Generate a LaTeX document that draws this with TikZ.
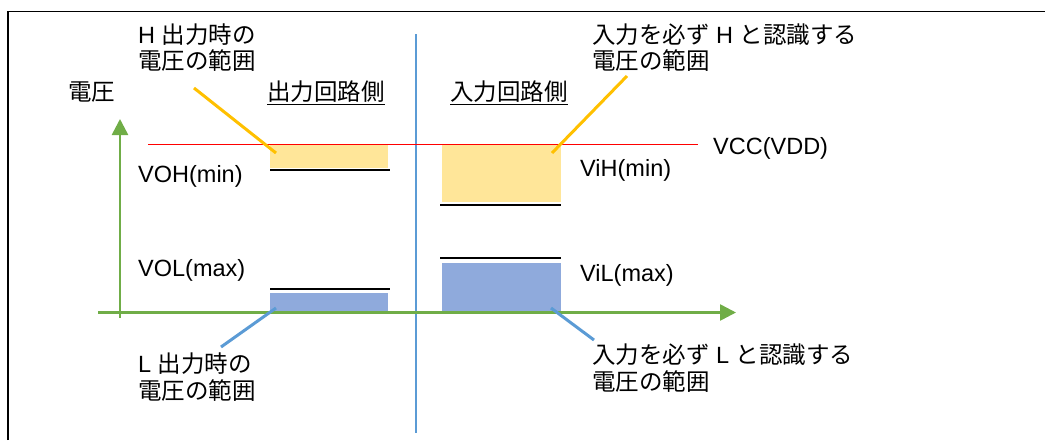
\documentclass[tikz,border=0pt]{standalone}
\usepackage{fontspec}
\setmainfont{Liberation Sans}
\newfontfamily\jp{Noto Sans CJK JP}
\usetikzlibrary{arrows.meta}
\definecolor{axgreen}{HTML}{70AD47}
\definecolor{ldorange}{HTML}{FFC000}
\definecolor{ldblue}{HTML}{5B9BD5}
\definecolor{hifill}{HTML}{FFE699}
\definecolor{lofill}{HTML}{8FAADC}
\definecolor{vccred}{HTML}{FF0000}
\begin{document}
\begin{tikzpicture}[x=1pt,y=-1pt,
  lbl/.style={inner sep=0pt,anchor=base west,font=\fontsize{23.5}{26}\selectfont},
  axis/.style={draw=axgreen,line width=2.6pt,-{Triangle[width=16pt,length=16pt]}},
  lvl/.style={draw=black,line width=2.5pt},
  hibox/.style={fill=hifill,draw=none},
  lobox/.style={fill=lofill,draw=none},
  ldo/.style={draw=ldorange,line width=3pt},
  ldb/.style={draw=ldblue,line width=3pt},
  ul/.style={draw=black,line width=1.8pt}]
\useasboundingbox (0,0) rectangle (1045,440);
% frame
\draw[line width=1.5pt] (8,440) -- (8,11.5) -- (1045,11.5);
% separator
\draw[ldblue,line width=1.2pt] (416,34) -- (416,433);
% boxes
\fill[hibox] (270,144) rectangle (388,168);
\fill[lobox] (270,293) rectangle (388,312);
\fill[hibox] (442,144) rectangle (561,202);
\fill[lobox] (442,263) rectangle (561,312);
% level lines
\coordinate (oh1) at (270,170); \coordinate (oh2) at (390,170);
\coordinate (ol1) at (270,289); \coordinate (ol2) at (390,289);
\coordinate (ih1) at (440,205); \coordinate (ih2) at (561,205);
\coordinate (il1) at (440,258); \coordinate (il2) at (561,258);
\draw[lvl] (oh1) -- (oh2);
\draw[lvl] (ol1) -- (ol2);
\draw[lvl] (ih1) -- (ih2);
\draw[lvl] (il1) -- (il2);
% axes
\coordinate (yb) at (120,318); \coordinate (yt) at (120,119);
\coordinate (xl) at (98,312.5); \coordinate (xr) at (736,312.5);
\draw[axis] (yb) -- (yt);
\draw[axis] (xl) -- (xr);
% VCC line
\coordinate (r1) at (148,144); \coordinate (r2) at (698,144);
\draw[vccred,line width=1pt] (r1) -- (r2);
% labels
\node[lbl,font=\fontsize{23.5}{26}\selectfont\jp] (volt) at (68,100.5) {電圧};
\node[lbl,font=\fontsize{23.5}{26}\selectfont\jp] (outside) at (267,100.5) {出力回路側};
\node[lbl,font=\fontsize{23.5}{26}\selectfont\jp] (inside) at (450,100.5) {入力回路側};
\draw[ul] ([yshift=-4pt]outside.base west) -- ([yshift=-4pt]outside.base east);
\draw[ul] ([yshift=-4pt]inside.base west) -- ([yshift=-4pt]inside.base east);
\node[lbl] (hout1) at (138,43) {H {\jp 出力時の}};
\node[lbl,font=\fontsize{23.5}{26}\selectfont\jp] (hout2) at (138,69) {電圧の範囲};
\node[lbl] (hin1) at (592,43) {{\jp 入力を必ず} H {\jp と認識する}};
\node[lbl,font=\fontsize{23.5}{26}\selectfont\jp] (hin2) at (592,69) {電圧の範囲};
\node[lbl] (lout1) at (138,372) {L {\jp 出力時の}};
\node[lbl,font=\fontsize{23.5}{26}\selectfont\jp] (lout2) at (138,399) {電圧の範囲};
\node[lbl] (lin1) at (592,363) {{\jp 入力を必ず} L {\jp と認識する}};
\node[lbl,font=\fontsize{23.5}{26}\selectfont\jp] (lin2) at (592,390) {電圧の範囲};
\node[lbl] (voh) at (138,182) {VOH(min)};
\node[lbl] (vol) at (138,276) {VOL(max)};
\node[lbl] (vih) at (580,176) {ViH(min)};
\node[lbl] (vil) at (580,281) {ViL(max)};
\node[lbl] (vcc) at (713,154) {VCC(VDD)};
% leaders
\coordinate (a1) at (194,88); \coordinate (a2) at (276,153);
\coordinate (b1) at (627,76); \coordinate (b2) at (552,153);
\coordinate (c1) at (221,347); \coordinate (c2) at (276,308);
\coordinate (d1) at (594,340); \coordinate (d2) at (551,308);
\draw[ldo] (a1) -- (a2);
\draw[ldo] (b1) -- (b2);
\draw[ldb] (c1) -- (c2);
\draw[ldb] (d1) -- (d2);
\end{tikzpicture}
\end{document}
